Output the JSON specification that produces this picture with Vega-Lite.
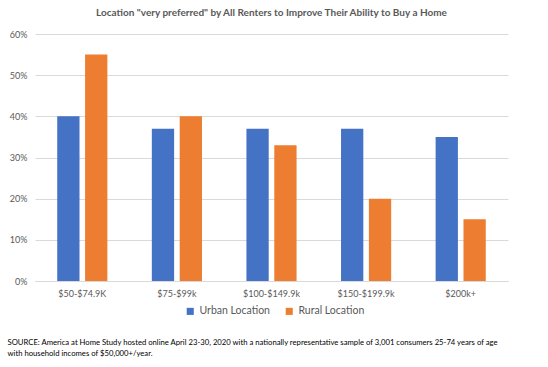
{
  "$schema": "https://vega.github.io/schema/vega-lite/v6.json",
  "autosize": "none",
  "width": 473,
  "height": 247,
  "padding": {"left": 35, "top": 34, "right": 40, "bottom": 86},
  "background": "white",
  "title": {
    "text": "Location \"very preferred\" by All Renters to Improve Their Ability to Buy a Home",
    "font": "Lato",
    "fontSize": 10,
    "fontWeight": "bold",
    "color": "#595959",
    "anchor": "middle",
    "offset": 12
  },
  "data": {
    "values": [
      {"income": "$50-$74.9K", "location": "Urban Location", "share": 0.40},
      {"income": "$50-$74.9K", "location": "Rural Location", "share": 0.55},
      {"income": "$75-$99k", "location": "Urban Location", "share": 0.37},
      {"income": "$75-$99k", "location": "Rural Location", "share": 0.40},
      {"income": "$100-$149.9k", "location": "Urban Location", "share": 0.37},
      {"income": "$100-$149.9k", "location": "Rural Location", "share": 0.33},
      {"income": "$150-$199.9k", "location": "Urban Location", "share": 0.37},
      {"income": "$150-$199.9k", "location": "Rural Location", "share": 0.20},
      {"income": "$200k+", "location": "Urban Location", "share": 0.35},
      {"income": "$200k+", "location": "Rural Location", "share": 0.15}
    ]
  },
  "mark": {"type": "bar"},
  "encoding": {
    "x": {
      "field": "income",
      "type": "nominal",
      "sort": null,
      "scale": {"paddingInner": 0.47, "paddingOuter": 0.235},
      "axis": {
        "labelAngle": 0,
        "labelFont": "Lato",
        "labelFontSize": 9,
        "labelColor": "#595959",
        "labelPadding": 8,
        "ticks": false,
        "domainColor": "#D9D9D9",
        "title": ["SOURCE: America at Home Study hosted online April 23-30, 2020 with a nationally representative sample of 3,001 consumers 25-74 years of age", "with household incomes of $50,000+/year."],
        "titleFont": "Lato",
        "titleFontSize": 7.7,
        "titleFontWeight": "normal",
        "titleColor": "#000000",
        "titleAnchor": "start",
        "titleAlign": "left",
        "titleBaseline": "top",
        "titleX": -28,
        "titleY": 57,
        "titleLineHeight": 11
      }
    },
    "xOffset": {
      "field": "location",
      "type": "nominal",
      "sort": ["Urban Location", "Rural Location"],
      "scale": {"paddingInner": 0.2, "paddingOuter": 0}
    },
    "y": {
      "field": "share",
      "type": "quantitative",
      "scale": {"domain": [0, 0.6]},
      "axis": {
        "format": ".0%",
        "values": [0, 0.1, 0.2, 0.3, 0.4, 0.5, 0.6],
        "title": null,
        "domain": false,
        "ticks": false,
        "labelFont": "Lato",
        "labelFontSize": 9,
        "labelColor": "#595959",
        "labelPadding": 8,
        "gridColor": "#D9D9D9"
      }
    },
    "color": {
      "field": "location",
      "type": "nominal",
      "sort": ["Urban Location", "Rural Location"],
      "scale": {"domain": ["Urban Location", "Rural Location"], "range": ["#4472C4", "#ED7D31"]},
      "legend": {
        "title": null,
        "orient": "none",
        "direction": "horizontal",
        "legendX": 150,
        "legendY": 272,
        "symbolType": "square",
        "symbolSize": 50,
        "symbolStrokeWidth": 0,
        "labelFont": "Lato",
        "labelFontSize": 10.5,
        "labelColor": "#595959",
        "columnPadding": 14
      }
    }
  },
  "config": {"view": {"stroke": null}}
}
